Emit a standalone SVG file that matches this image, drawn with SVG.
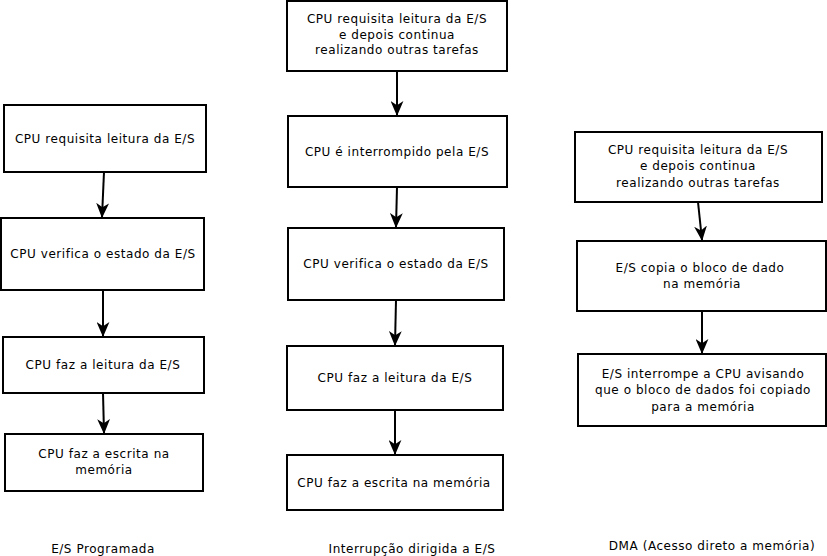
<svg xmlns="http://www.w3.org/2000/svg" width="827" height="556" viewBox="0 0 827 556">
<style>
.box{fill:#fff;stroke:#000;stroke-width:2}
.t{font-family:"DejaVu Sans",sans-serif;font-size:12px;letter-spacing:0.55px;fill:#000;text-anchor:middle}
.c{stroke:#000;stroke-width:2;fill:none;marker-end:url(#ah)}
</style>
<defs>
<marker id="ah" viewBox="0 0 14 12" refX="13" refY="6" markerWidth="15" markerHeight="13" markerUnits="userSpaceOnUse" orient="auto">
<path d="M0,0 L14,6 L0,12 L4,6 Z" fill="#000"/>
</marker>
</defs>
<rect width="827" height="556" fill="#fff"/>
<g id="connectors">
<line class="c" x1="104" y1="172" x2="102" y2="217"/>
<line class="c" x1="103" y1="290" x2="103" y2="336"/>
<line class="c" x1="103" y1="393" x2="104" y2="433"/>
<line class="c" x1="397" y1="71" x2="397" y2="115"/>
<line class="c" x1="397" y1="187" x2="396" y2="227"/>
<line class="c" x1="396" y1="300" x2="395" y2="345"/>
<line class="c" x1="395" y1="410" x2="395" y2="454"/>
<line class="c" x1="698" y1="202" x2="702" y2="240"/>
<line class="c" x1="702" y1="311" x2="702" y2="353"/>
</g>
<g id="p1"><rect class="box" x="4" y="105" width="202" height="67"/><text class="t" x="105" y="143">CPU requisita leitura da E/S</text></g>
<g id="p2"><rect class="box" x="1" y="218" width="203" height="72"/><text class="t" x="103" y="258">CPU verifica o estado da E/S</text></g>
<g id="p3"><rect class="box" x="3" y="337" width="201" height="56"/><text class="t" x="103" y="369">CPU faz a leitura da E/S</text></g>
<g id="p4"><rect class="box" x="5" y="434" width="198" height="57"/><text class="t" x="104" y="458">CPU faz a escrita na</text><text class="t" x="104" y="474">memória</text></g>
<g id="i1"><rect class="box" x="287" y="1" width="220" height="70"/><text class="t" x="397" y="23">CPU requisita leitura da E/S</text><text class="t" x="397" y="39">e depois continua</text><text class="t" x="397" y="54">realizando outras tarefas</text></g>
<g id="i2"><rect class="box" x="288" y="116" width="219" height="71"/><text class="t" x="397" y="156">CPU é interrompido pela E/S</text></g>
<g id="i3"><rect class="box" x="288" y="228" width="216" height="72"/><text class="t" x="396" y="268">CPU verifica o estado da E/S</text></g>
<g id="i4"><rect class="box" x="287" y="346" width="216" height="64"/><text class="t" x="395" y="382">CPU faz a leitura da E/S</text></g>
<g id="i5"><rect class="box" x="287" y="455" width="216" height="55"/><text class="t" x="394" y="487">CPU faz a escrita na memória</text></g>
<g id="d1"><rect class="box" x="575" y="132" width="247" height="70"/><text class="t" x="698" y="154">CPU requisita leitura da E/S</text><text class="t" x="698" y="170">e depois continua</text><text class="t" x="698" y="187">realizando outras tarefas</text></g>
<g id="d2"><rect class="box" x="577" y="241" width="249" height="70"/><text class="t" x="700" y="272">E/S copia o bloco de dado</text><text class="t" x="702" y="288">na memória</text></g>
<g id="d3"><rect class="box" x="578" y="354" width="248" height="72"/><text class="t" x="703" y="378">E/S interrompe a CPU avisando</text><text class="t" x="703" y="394">que o bloco de dados foi copiado</text><text class="t" x="703" y="411">para a memória</text></g>
<g id="labels">
<text class="t" x="103" y="553">E/S Programada</text>
<text class="t" x="412" y="553">Interrupção dirigida a E/S</text>
<text class="t" x="712" y="550">DMA (Acesso direto a memória)</text>
</g>
</svg>
